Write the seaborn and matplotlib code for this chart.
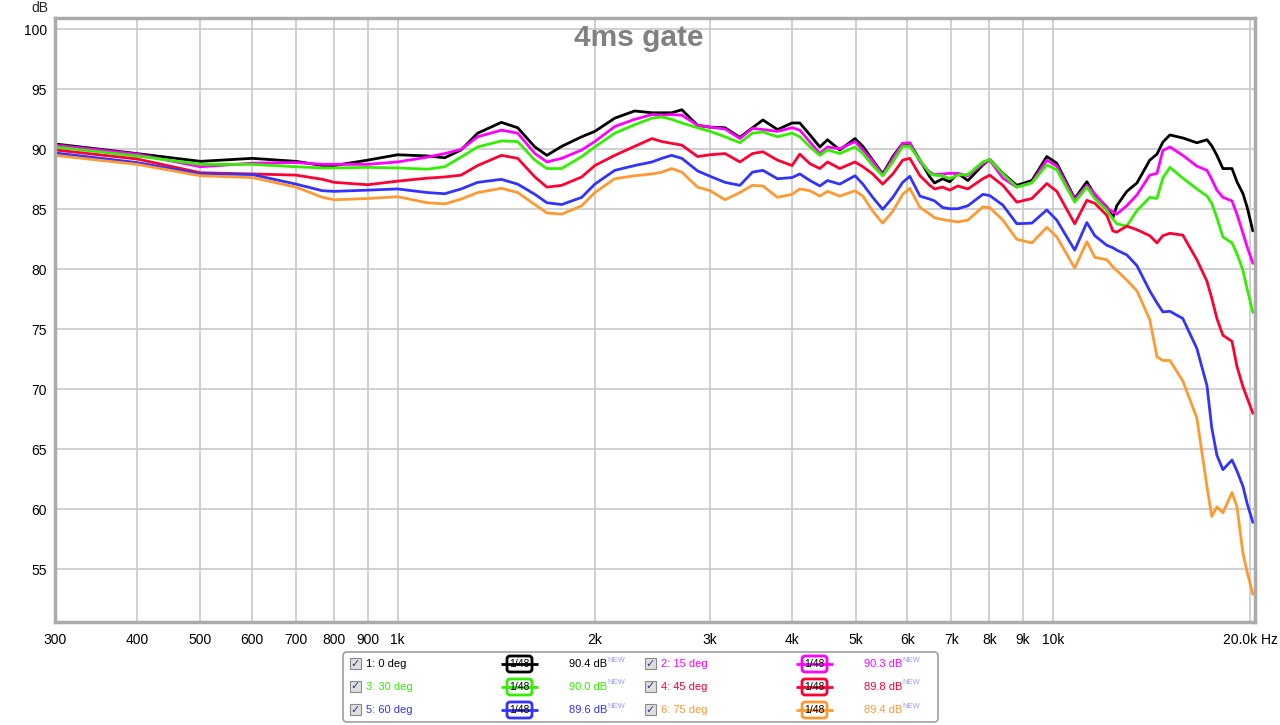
import matplotlib
matplotlib.use("Agg")
import matplotlib.pyplot as plt
import numpy as np
import pandas as pd
import seaborn as sns
from matplotlib.patches import FancyBboxPatch, Rectangle
from matplotlib.ticker import FixedLocator, NullLocator

# ---------------- data ----------------
freq_hz = [300, 400, 500, 600, 700, 768, 800, 900, 1000, 1110, 1180, 1250, 1325, 1440, 1525,
           1620, 1690, 1780, 1910, 2000, 2145, 2300, 2445, 2530, 2620, 2715, 2870, 3000, 3160,
           3330, 3480, 3610, 3800, 4000, 4110, 4260, 4410, 4530, 4730, 4990, 5130, 5310, 5500,
           5700, 5900, 6050, 6270, 6490, 6600, 6790, 6960, 7160, 7420, 7820, 8010, 8390, 8810,
           9290, 9790, 10140, 10800, 11270, 11590, 12090, 12350, 12520, 12970, 13440, 14060,
           14420, 14720, 15090, 15790, 16590, 17190, 17480, 17800, 18180, 18770, 19100, 19510,
           19790, 20200]

db_0deg = [90.45, 89.65, 89.0, 89.25, 89.0, 88.65, 88.65, 89.1, 89.55, 89.45, 89.3, 89.95, 91.35, 92.25, 91.8,
           90.2, 89.5, 90.25, 91.05, 91.5, 92.6, 93.2, 93.05, 93.05, 93.05, 93.3, 92.0, 91.85, 91.8,
           91.0, 91.8, 92.45, 91.65, 92.2, 92.2, 91.2, 90.2, 90.8, 89.95, 90.9, 90.25, 89.1, 87.95,
           89.4, 90.5, 90.5, 89.1, 87.7, 87.2, 87.55, 87.3, 88.0, 87.4, 88.7, 89.15, 88.0, 87.0,
           87.4, 89.4, 88.85, 85.9, 87.3, 86.2, 85.2, 84.3, 85.3, 86.5, 87.2, 89.1,
           89.6, 90.6, 91.2, 90.95, 90.55, 90.8, 90.3, 89.5, 88.4, 88.4, 87.3, 86.3,
           85.2, 83.2]
db_15deg = [90.35, 89.6, 88.55, 88.85, 88.9, 88.75, 88.75, 88.75, 88.95, 89.35, 89.65, 90.0, 91.05, 91.6, 91.35,
            89.65, 88.95, 89.25, 89.95, 90.65, 91.9, 92.5, 92.9, 92.85, 92.9, 92.85, 92.0, 91.85, 91.7,
            90.9, 91.75, 91.65, 91.5, 91.8, 91.6, 90.6, 89.65, 90.2, 90.05, 90.65, 89.95, 89.0, 87.85,
            89.25, 90.5, 90.55, 88.95, 88.1, 87.9, 87.95, 88.0, 88.0, 87.8, 88.8, 89.1, 87.6, 86.85,
            87.25, 89.1, 88.6, 85.8, 87.0, 86.3, 85.1, 84.8, 84.6, 85.3, 86.2, 87.85,
            88.0, 89.9, 90.2, 89.5, 88.6, 88.25, 87.5, 86.6, 86.0, 85.7, 84.6, 83.0,
            81.9, 80.5]
db_30deg = [90.2, 89.45, 88.75, 88.75, 88.55, 88.45, 88.45, 88.5, 88.45, 88.35, 88.55, 89.35, 90.2, 90.7, 90.65,
            89.1, 88.4, 88.4, 89.4, 90.2, 91.35, 92.05, 92.6, 92.7, 92.5, 92.2, 91.8, 91.5, 91.05,
            90.55, 91.35, 91.45, 91.05, 91.35, 91.05, 90.2, 89.5, 89.95, 89.65, 90.2, 89.65, 88.65, 87.8,
            88.95, 90.25, 90.25, 89.1, 88.0, 87.85, 87.8, 87.55, 87.85, 87.9, 88.95, 89.15, 87.95, 86.85,
            87.2, 88.7, 88.3, 85.6, 86.85, 85.9, 84.9, 84.2, 83.8, 83.6, 84.9, 86.0,
            85.9, 87.6, 88.5, 87.6, 86.7, 86.1, 85.5, 84.3, 82.7, 82.2, 81.3, 79.9,
            78.4, 76.4]
db_45deg = [89.95, 89.2, 88.05, 87.95, 87.85, 87.5, 87.25, 87.05, 87.35, 87.6, 87.7, 87.85, 88.65, 89.5, 89.25,
            87.7, 86.85, 87.0, 87.7, 88.65, 89.5, 90.25, 90.9, 90.65, 90.5, 90.35, 89.4, 89.55, 89.65,
            88.95, 89.65, 89.8, 89.1, 88.65, 89.6, 88.8, 88.4, 88.95, 88.4, 88.95, 88.55, 87.95, 87.1,
            87.95, 89.1, 89.25, 87.8, 87.0, 86.7, 86.85, 86.6, 86.95, 86.7, 87.55, 87.85, 87.0, 85.6,
            85.9, 87.15, 86.5, 83.8, 85.75, 85.5, 84.5, 83.2, 83.1, 83.6, 83.3, 82.8,
            82.2, 82.8, 83.0, 82.85, 80.8, 79.0, 77.6, 75.9, 74.5, 74.0, 71.9, 70.2,
            69.3, 68.0]
db_60deg = [89.7, 88.9, 87.95, 87.9, 87.1, 86.55, 86.5, 86.6, 86.7, 86.4, 86.3, 86.7, 87.25, 87.5, 87.1,
            86.25, 85.55, 85.4, 86.0, 87.1, 88.25, 88.65, 88.95, 89.25, 89.5, 89.25, 88.2, 87.75, 87.25,
            87.0, 88.1, 88.25, 87.55, 87.65, 87.95, 87.4, 86.95, 87.4, 87.1, 87.8, 87.1, 86.0, 85.0,
            86.0, 87.25, 87.75, 86.1, 85.85, 85.7, 85.15, 85.05, 85.05, 85.3, 86.25, 86.15, 85.35, 83.8,
            83.85, 84.95, 84.1, 81.6, 83.9, 82.8, 82.0, 81.8, 81.6, 81.2, 80.3, 78.2,
            77.2, 76.45, 76.5, 75.9, 73.4, 70.3, 66.8, 64.5, 63.3, 64.1, 63.2, 61.9,
            60.5, 58.9]
db_75deg = [89.5, 88.75, 87.8, 87.65, 86.85, 86.0, 85.8, 85.9, 86.05, 85.55, 85.45, 85.85, 86.4, 86.75, 86.4,
            85.4, 84.7, 84.6, 85.3, 86.4, 87.55, 87.8, 87.95, 88.1, 88.4, 88.1, 86.85, 86.55, 85.8,
            86.4, 87.0, 86.95, 86.0, 86.25, 86.7, 86.55, 86.1, 86.5, 86.1, 86.55, 86.1, 84.85, 83.85,
            84.85, 86.25, 86.75, 85.15, 84.6, 84.3, 84.15, 84.05, 83.95, 84.1, 85.2, 85.15, 84.1, 82.5,
            82.2, 83.5, 82.7, 80.1, 82.3, 81.0, 80.8, 80.2, 79.9, 79.1, 78.2, 75.8,
            72.7, 72.4, 72.4, 70.7, 67.6, 61.9, 59.4, 60.2, 59.7, 61.4, 60.2, 56.3,
            54.8, 52.9]

series_names = ["1: 0 deg", "2: 15 deg", "3: 30 deg", "4: 45 deg", "5: 60 deg", "6: 75 deg"]
series_db = [db_0deg, db_15deg, db_30deg, db_45deg, db_60deg, db_75deg]
series_colors = ["#000000", "#ff00ff", "#33ee00", "#ff0033", "#3333ff", "#ff9933"]
legend_levels = ["90.4 dB", "90.3 dB", "90.0 dB", "89.8 dB", "89.6 dB", "89.4 dB"]

x_ticks = [300, 400, 500, 600, 700, 800, 900, 1000, 2000, 3000, 4000, 5000, 6000, 7000,
           8000, 9000, 10000, 20000]
x_tick_labels = ["300", "400", "500", "600", "700", "800", "900", "1k", "2k", "3k", "4k", "5k",
                 "6k", "7k", "8k", "9k", "10k", "20.0k Hz"]
y_ticks = [55, 60, 65, 70, 75, 80, 85, 90, 95, 100]

# ---------------- figure ----------------
sns.set_style("white")
plt.rcParams["font.family"] = ["Liberation Sans", "DejaVu Sans"]

W, H = 1280, 725
fig = plt.figure(figsize=(W / 100, H / 100), dpi=100)
fig.patch.set_facecolor("white")
ax = fig.add_axes([55 / W, 1 - 622 / H, 1200 / W, 604 / H])

df = pd.concat([pd.DataFrame({"freq": freq_hz, "db": vals, "series": name})
                for name, vals in zip(series_names, series_db)], ignore_index=True)

sns.lineplot(data=df, x="freq", y="db", hue="series", hue_order=series_names,
             palette=dict(zip(series_names, series_colors)), linewidth=2.0,
             estimator=None, legend=False, ax=ax)
for ln in ax.get_lines():
    ln.set_solid_joinstyle("round")

ax.set_xscale("log")
ax.set_xlim(300, 20350)
ax.set_ylim(50.6, 100.95)
ax.xaxis.set_major_locator(FixedLocator(x_ticks))
ax.xaxis.set_minor_locator(NullLocator())
ax.set_xticklabels(x_tick_labels)
ax.set_yticks(y_ticks)
ax.set_yticklabels([str(v) for v in y_ticks])
ax.set_xlabel("")
ax.set_ylabel("")
ax.grid(True, which="major", color="#c8c8c8", linewidth=1.2)
ax.set_axisbelow(True)
ax.tick_params(axis="both", length=0, labelsize=10, colors="#000000")
ax.tick_params(axis="x", pad=8)
ax.tick_params(axis="y", pad=6)
for s in ax.spines.values():
    s.set_color("#ababab")
    s.set_linewidth(2.5)

fig.text(40 / W, 1 - 8 / H, "dB", ha="center", va="center", fontsize=10)
fig.text(639 / W, 1 - 38 / H, "4ms gate", ha="center", va="center", fontsize=21.5,
         fontweight="bold", color="#808080")

# ---------------- legend panel (pixel coordinates) ----------------
lax = fig.add_axes([0, 0, 1, 1])
lax.set_xlim(0, W)
lax.set_ylim(H, 0)
lax.axis("off")

lax.add_patch(FancyBboxPatch((343, 652), 595, 70, boxstyle="round,pad=0,rounding_size=4",
                             facecolor="white", edgecolor="#a0a0a0", linewidth=1.2))

row_y = [664, 687, 710]
col_x = [350, 645]
for i, (name, col, lvl) in enumerate(zip(series_names, series_colors, legend_levels)):
    y = row_y[i // 2]
    x0 = col_x[i % 2]
    lax.add_patch(Rectangle((x0, y - 6), 11, 11, facecolor="#dedede", edgecolor="#8a8a8a", linewidth=0.8))
    lax.text(x0 + 5.5, y - 0.5, "\u2713", ha="center", va="center", fontsize=8,
             color="#2a3f8f", family=["DejaVu Sans"])
    lax.text(x0 + 16, y, name, ha="left", va="center", fontsize=8, color=col)
    lax.plot([x0 + 151, x0 + 188], [y, y], color=col, linewidth=2, solid_capstyle="butt")
    lax.add_patch(FancyBboxPatch((x0 + 157, y - 8), 25, 16, boxstyle="round,pad=0,rounding_size=3",
                                 facecolor="white", edgecolor=col, linewidth=2))
    lax.text(x0 + 169.5, y, "1/48", ha="center", va="center", fontsize=7.5, color="black")
    lax.text(x0 + 219, y, lvl, ha="left", va="center", fontsize=8, color=col)
    lax.text(x0 + 257, y - 4, "NEW", ha="left", va="center", fontsize=5.5, color="#9a9aff")

fig.savefig("out.png", dpi=100, facecolor="white")
